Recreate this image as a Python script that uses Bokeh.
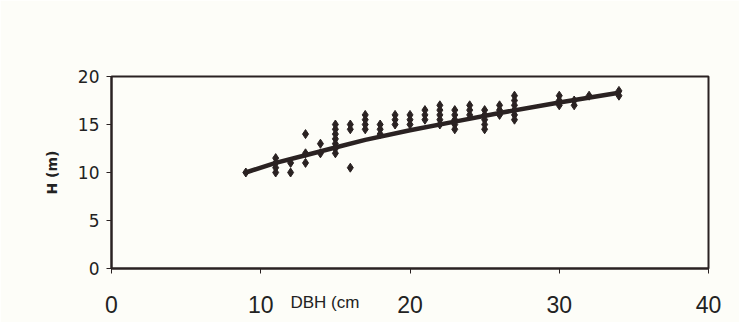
from bokeh.plotting import figure
from bokeh.models import Range1d, FixedTicker, LinearAxis
from bokeh.embed import file_html
from bokeh.resources import INLINE

# Tree diameter at breast height (cm) and height (m)
dbh = [9,
       11, 11, 11, 11,
       12, 12,
       13, 13, 13,
       14, 14,
       15, 15, 15, 15, 15, 15, 15,
       16, 16, 16,
       17, 17, 17, 17,
       18, 18, 18,
       19, 19, 19,
       20, 20, 20,
       21, 21, 21,
       22, 22, 22, 22, 22,
       23, 23, 23, 23, 23,
       24, 24, 24,
       25, 25, 25, 25, 25,
       26, 26, 26,
       27, 27, 27, 27, 27, 27,
       30, 30, 30,
       31, 31,
       32,
       34, 34]
height = [10,
          11.5, 11, 10.5, 10,
          11, 10,
          14, 12, 11,
          13, 12,
          15, 14.5, 14, 13.5, 13, 12.5, 12,
          15, 14.5, 10.5,
          16, 15.5, 15, 14.5,
          15, 14.5, 14,
          16, 15.5, 15,
          16, 15.5, 15,
          16.5, 16, 15.5,
          17, 16.5, 16, 15.5, 15,
          16.5, 16, 15.5, 15, 14.5,
          17, 16.5, 16,
          16.5, 16, 15.5, 15, 14.5,
          17, 16.5, 16,
          18, 17.5, 17, 16.5, 16, 15.5,
          18, 17.5, 17,
          17.5, 17,
          18,
          18.5, 18]

# trend line
trend_dbh = [9, 11, 13, 15, 17, 20, 23, 26, 30, 34]
trend_h = [10, 11.0, 11.8, 12.6, 13.4, 14.4, 15.3, 16.2, 17.3, 18.3]

x_ticks = [0, 10, 20, 30, 40]
y_ticks = [0, 5, 10, 15, 20]
x_title = "DBH (cm"
y_title = "H (m)"
X_TITLE_AT = 14.3  # where the (offset) x title sits along the axis

INK = "#2a2222"
TXT = "#222222"
BG = "#fdfdf8"

p = figure(width=739, height=322, output_backend="svg", toolbar_location=None,
           x_range=Range1d(0, 40), y_range=Range1d(0, 20),
           min_border_left=111, min_border_right=31, min_border_top=76,
           min_border_bottom=54)
p.background_fill_color = BG
p.border_fill_color = BG
p.outline_line_color = INK
p.outline_line_width = 2
p.xgrid.visible = False
p.ygrid.visible = False

p.xaxis.ticker = FixedTicker(ticks=x_ticks)
p.yaxis.ticker = FixedTicker(ticks=y_ticks)
for ax in (p.xaxis[0], p.yaxis[0]):
    ax.axis_line_color = INK
    ax.axis_line_width = 2
    ax.major_tick_line_color = INK
    ax.major_tick_line_width = 1
    ax.major_tick_out = 5
    ax.major_tick_in = 0
    ax.minor_tick_line_color = None
    ax.major_label_text_color = TXT

p.yaxis.major_label_text_font = "DejaVu Sans"
p.yaxis.major_label_text_font_size = "17px"
p.yaxis.major_label_standoff = 7
p.yaxis.axis_label = y_title
p.yaxis.axis_label_text_font = "DejaVu Sans"
p.yaxis.axis_label_text_font_size = "14px"
p.yaxis.axis_label_text_font_style = "bold"
p.yaxis.axis_label_text_color = TXT
p.yaxis.axis_label_standoff = 15

p.xaxis.major_label_text_font = "Liberation Sans"
p.xaxis.major_label_text_font_size = "23px"
p.xaxis.major_label_standoff = 22

# x title: drawn as the single label of a second, line-less axis, pulled up
# into the row of tick labels
title_axis = LinearAxis(ticker=FixedTicker(ticks=[X_TITLE_AT]),
                        major_label_overrides={X_TITLE_AT: x_title},
                        axis_line_color=None, major_tick_line_color=None,
                        minor_tick_line_color=None, major_tick_out=0,
                        major_label_standoff=-23,
                        major_label_text_font="Liberation Sans",
                        major_label_text_font_size="17px",
                        major_label_text_color=TXT)
p.add_layout(title_axis, "below")

p.line(trend_dbh, trend_h, line_color=INK, line_width=4.5, line_join="round",
       line_cap="round")
p.scatter(dbh, height, marker="diamond", size=9, fill_color=INK, line_color=INK)

open("out.html", "w").write(file_html(p, INLINE))
